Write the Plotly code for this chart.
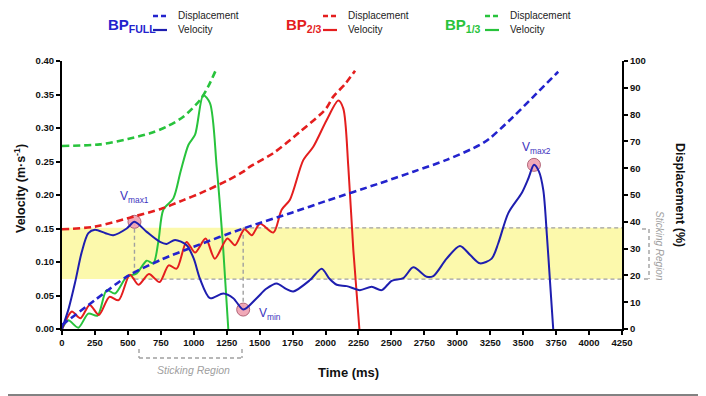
import plotly.graph_objects as go

# ---------------- data ----------------
# BP_FULL
full_vel_t = [0, 50, 100, 150, 200, 250, 330, 389, 491, 550, 643, 744, 794, 858, 946, 1000, 1047, 1123, 1224, 1300, 1376, 1477, 1550, 1629, 1700, 1755, 1882, 1971, 2030, 2085, 2161, 2261, 2350, 2426, 2502, 2590, 2666, 2768, 2818, 2919, 3020, 3100, 3172, 3261, 3311, 3387, 3489, 3540, 3582, 3620, 3653, 3680, 3703, 3728]
full_vel_v = [0.0, 0.03, 0.07, 0.115, 0.143, 0.148, 0.143, 0.140, 0.150, 0.160, 0.145, 0.130, 0.127, 0.133, 0.125, 0.105, 0.075, 0.046, 0.053, 0.046, 0.029, 0.046, 0.060, 0.068, 0.060, 0.056, 0.073, 0.090, 0.075, 0.066, 0.064, 0.058, 0.063, 0.058, 0.072, 0.076, 0.092, 0.078, 0.079, 0.105, 0.124, 0.110, 0.098, 0.105, 0.128, 0.173, 0.203, 0.225, 0.245, 0.235, 0.207, 0.140, 0.073, 0.0]
full_disp_t = [0, 250, 500, 750, 1000, 1375, 1750, 2000, 2413, 2666, 2919, 3172, 3248, 3425, 3602, 3766]
full_disp_d = [1.5, 10.8, 19.8, 25.8, 30.7, 37.5, 43.5, 47.7, 54.4, 58.7, 63.1, 68.7, 71.2, 79.2, 87.9, 96.0]

# BP_2/3
two_vel_t = [0, 35, 75, 140, 210, 280, 360, 430, 515, 580, 660, 740, 810, 870, 945, 1010, 1090, 1160, 1255, 1313, 1385, 1440, 1503, 1604, 1667, 1730, 1831, 1907, 2009, 2097, 2135, 2173, 2211, 2257]
two_vel_v = [0.0, 0.015, 0.026, 0.016, 0.036, 0.021, 0.048, 0.043, 0.081, 0.066, 0.082, 0.070, 0.095, 0.090, 0.130, 0.114, 0.135, 0.105, 0.135, 0.125, 0.149, 0.140, 0.157, 0.144, 0.178, 0.193, 0.252, 0.272, 0.312, 0.341, 0.329, 0.242, 0.118, 0.0]
two_disp_t = [0, 250, 541, 750, 921, 1047, 1250, 1376, 1427, 1600, 1806, 2000, 2059, 2150, 2224]
two_disp_d = [37.2, 38.2, 41.9, 44.8, 48.1, 50.6, 55.3, 58.7, 60.6, 65.5, 73.6, 82.0, 86.7, 91.5, 96.4]

# BP_1/3
one_vel_t = [0, 48, 124, 200, 270, 339, 402, 491, 567, 643, 693, 731, 769, 845, 900, 960, 1010, 1072, 1123, 1174, 1224, 1262]
one_vel_v = [0.0, 0.013, 0.002, 0.023, 0.020, 0.058, 0.053, 0.078, 0.083, 0.102, 0.098, 0.130, 0.178, 0.195, 0.235, 0.275, 0.290, 0.349, 0.337, 0.242, 0.118, 0.0]
one_disp_t = [0, 288, 500, 668, 794, 921, 1047, 1110, 1174]
one_disp_d = [68.3, 68.9, 70.9, 73.0, 75.5, 79.2, 85.4, 90.5, 97.3]

# key points
key_t = [550, 1375, 3582]
key_v = [0.160, 0.029, 0.245]
key_labels = ["V<sub>max1</sub>", "V<sub>min</sub>", "V<sub>max2</sub>"]

# sticking region (velocity-axis equivalents)
stick_lo = 0.0745
stick_hi = 0.151

x_ticks = list(range(0, 4251, 250))

# ---------------- styling ----------------
BLUE = "rgb(30,30,175)"
BLUE_D = "rgb(35,35,205)"
RED = "rgb(228,30,30)"
GREEN = "rgb(40,195,60)"
GRAY = "rgb(160,160,160)"
LBL = "rgb(60,50,190)"
FONT = "Liberation Sans, Arial, sans-serif"

W, H = 706, 396
OFF = 8  # page body margin offset
# plot area in screen pixels
PX0, PX1, PY0, PY1 = 62, 622, 61, 329
L = PX0 - OFF
T = PY0 - OFF
R = W - (PX1 - OFF)
B = H - (PY1 - OFF)
PW, PH = PX1 - PX0, PY1 - PY0


def px_x(px):
    return (px - PX0) / PW


def px_y(py):
    return (PY1 - py) / PH


fig = go.Figure()

# displacement (dashed, right axis)
for t, d, c in [(one_disp_t, one_disp_d, GREEN), (two_disp_t, two_disp_d, RED), (full_disp_t, full_disp_d, BLUE_D)]:
    fig.add_trace(go.Scatter(x=t, y=d, yaxis="y2", mode="lines",
                             line=dict(color=c, width=2.6, dash="7px,4px", shape="spline", smoothing=0.8),
                             hoverinfo="skip"))

# velocity (solid)
for t, v, c in [(one_vel_t, one_vel_v, GREEN), (two_vel_t, two_vel_v, RED)]:
    fig.add_trace(go.Scatter(x=t, y=v, mode="lines",
                             line=dict(color=c, width=2, shape="spline", smoothing=0.8),
                             hoverinfo="skip"))

fig.add_trace(go.Scatter(x=key_t, y=key_v, mode="markers",
                         marker=dict(size=13, color="rgba(240,160,175,0.9)",
                                     line=dict(color="rgba(170,90,110,0.9)", width=1)),
                         hoverinfo="skip"))

fig.add_trace(go.Scatter(x=full_vel_t, y=full_vel_v, mode="lines",
                         line=dict(color=BLUE, width=2, shape="spline", smoothing=0.8),
                         hoverinfo="skip"))

shapes = []
# yellow band
shapes.append(dict(type="rect", xref="x", yref="y", x0=0, x1=4250, y0=stick_lo, y1=stick_hi,
                   fillcolor="rgb(252,249,172)", line=dict(width=0), layer="below"))
gd = dict(color=GRAY, width=1.4, dash="4px,3px")
shapes.append(dict(type="line", xref="x", yref="y", x0=key_t[0], x1=4250, y0=stick_lo, y1=stick_lo, line=gd, layer="below"))
shapes.append(dict(type="line", xref="x", yref="y", x0=key_t[1], x1=4250, y0=stick_hi, y1=stick_hi, line=gd, layer="below"))
shapes.append(dict(type="line", xref="x", yref="y", x0=key_t[0], x1=key_t[0], y0=key_v[0], y1=stick_lo, line=gd, layer="below"))
shapes.append(dict(type="line", xref="x", yref="y", x0=key_t[1], x1=key_t[1], y0=stick_hi, y1=key_v[1], line=gd, layer="below"))

# right bracket
shapes.append(dict(type="line", xref="paper", yref="paper", x0=px_x(649), x1=px_x(649), y0=px_y(229), y1=px_y(279), line=gd))
shapes.append(dict(type="line", xref="paper", yref="paper", x0=px_x(642), x1=px_x(649), y0=px_y(229), y1=px_y(229), line=gd))
shapes.append(dict(type="line", xref="paper", yref="paper", x0=px_x(644), x1=px_x(649), y0=px_y(279), y1=px_y(279), line=gd))
# bottom bracket
shapes.append(dict(type="line", xref="paper", yref="paper", x0=px_x(139), x1=px_x(242), y0=px_y(358), y1=px_y(358), line=gd))
shapes.append(dict(type="line", xref="paper", yref="paper", x0=px_x(139), x1=px_x(139), y0=px_y(349), y1=px_y(358), line=gd))
shapes.append(dict(type="line", xref="paper", yref="paper", x0=px_x(242), x1=px_x(242), y0=px_y(349), y1=px_y(358), line=gd))

# frame border (right and bottom edges of the screen)
frame = dict(color="rgb(130,130,130)", width=2)
shapes.append(dict(type="line", xref="paper", yref="paper", x0=px_x(705), x1=px_x(705), y0=px_y(OFF), y1=px_y(396), line=frame))
shapes.append(dict(type="line", xref="paper", yref="paper", x0=px_x(OFF), x1=px_x(706), y0=px_y(395), y1=px_y(395), line=frame))

annotations = []
# legend
legend_groups = [
    ("BP<sub>FULL</sub>", 106, 153, 167, 176, BLUE_D, BLUE),
    ("BP<sub>2/3</sub>", 284, 323, 337, 346, RED, RED),
    ("BP<sub>1/3</sub>", 443, 485, 499, 508, GREEN, GREEN),
]
for name, tx, lx0, lx1, txx, cd, cs in legend_groups:
    annotations.append(dict(xref="paper", yref="paper", x=px_x(tx), y=px_y(25), xanchor="left", yanchor="middle",
                            text="<b>" + name + "</b>", showarrow=False, font=dict(family=FONT, size=15, color=cd)))
    shapes.append(dict(type="line", xref="paper", yref="paper", x0=px_x(lx0), x1=px_x(lx1), y0=px_y(16), y1=px_y(16),
                       line=dict(color=cd, width=2.6, dash="5px,3px")))
    shapes.append(dict(type="line", xref="paper", yref="paper", x0=px_x(lx0), x1=px_x(lx1), y0=px_y(30), y1=px_y(30),
                       line=dict(color=cs, width=2.2)))
    annotations.append(dict(xref="paper", yref="paper", x=px_x(txx), y=px_y(16), xanchor="left", yanchor="middle",
                            text="Displacement", showarrow=False, font=dict(family=FONT, size=10, color="#222")))
    annotations.append(dict(xref="paper", yref="paper", x=px_x(txx), y=px_y(30), xanchor="left", yanchor="middle",
                            text="Velocity", showarrow=False, font=dict(family=FONT, size=10, color="#222")))

# point labels
for (lx, ly), lab in zip([(134, 197), (270, 314), (536, 148)], key_labels):
    annotations.append(dict(xref="paper", yref="paper", x=px_x(lx), y=px_y(ly), xanchor="center", yanchor="middle",
                            text=lab, showarrow=False, font=dict(family=FONT, size=12, color=LBL)))

# axis titles
annotations.append(dict(xref="paper", yref="paper", x=px_x(348), y=px_y(372), xanchor="center", yanchor="middle",
                        text="<b>Time (ms)</b>", showarrow=False, font=dict(family=FONT, size=13, color="#111")))
annotations.append(dict(xref="paper", yref="paper", x=px_x(20), y=px_y(189), xanchor="center", yanchor="middle",
                        text="<b>Velocity (m·s<sup>-1</sup>)</b>", textangle=-90, showarrow=False,
                        font=dict(family=FONT, size=12.5, color="#111")))
annotations.append(dict(xref="paper", yref="paper", x=px_x(680), y=px_y(195), xanchor="center", yanchor="middle",
                        text="<b>Displacement (%)</b>", textangle=90, showarrow=False,
                        font=dict(family=FONT, size=12.5, color="#111")))
# sticking region labels
annotations.append(dict(xref="paper", yref="paper", x=px_x(660), y=px_y(246), xanchor="center", yanchor="middle",
                        text="<i>Sticking Region</i>", textangle=90, showarrow=False,
                        font=dict(family=FONT, size=10, color=GRAY)))
annotations.append(dict(xref="paper", yref="paper", x=px_x(193), y=px_y(370), xanchor="center", yanchor="middle",
                        text="<i>Sticking Region</i>", showarrow=False,
                        font=dict(family=FONT, size=10.5, color=GRAY)))

tickfont = dict(family=FONT, size=9.5, color="#111", weight="bold")

fig.update_layout(
    width=W, height=H,
    margin=dict(l=L, r=R, t=T, b=B, pad=0),
    paper_bgcolor="white", plot_bgcolor="white",
    showlegend=False,
    shapes=shapes,
    annotations=annotations,
    xaxis=dict(range=[0, 4250], tickmode="array", tickvals=x_ticks, ticktext=[str(v) for v in x_ticks],
               showgrid=False, zeroline=False, showline=True, linecolor="black", linewidth=2,
               ticks="outside", ticklen=4, tickwidth=1.5, tickcolor="black", tickfont=tickfont),
    yaxis=dict(range=[0, 0.4], tick0=0, dtick=0.05, tickformat=".2f",
               showgrid=False, zeroline=False, showline=True, linecolor="black", linewidth=2,
               ticks="outside", ticklen=4, tickwidth=1.5, tickcolor="black", tickfont=tickfont),
    yaxis2=dict(range=[0, 100], tick0=0, dtick=10, overlaying="y", side="right", anchor="x",
                showgrid=False, zeroline=False, showline=True, linecolor="black", linewidth=2,
                ticks="outside", ticklen=4, tickwidth=1.5, tickcolor="black", tickfont=tickfont),
)

fig.write_html("out.html")
